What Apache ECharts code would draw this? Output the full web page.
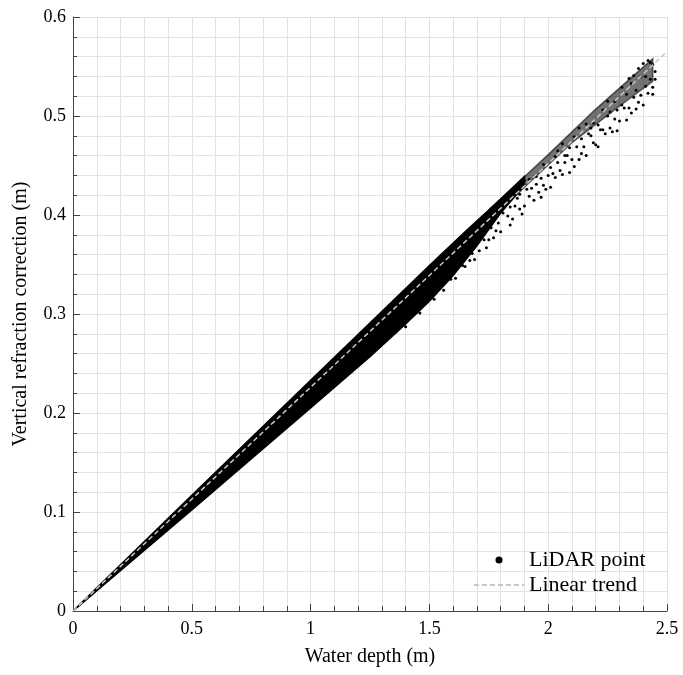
<!DOCTYPE html>
<html><head><meta charset="utf-8">
<script src="https://cdn.jsdelivr.net/npm/echarts@6/dist/echarts.min.js"></script>
<style>html,body{margin:0;padding:0;background:#fff}#c{width:683px;height:675px}</style>
</head><body><div id="c"></div>
<script>
// Tick labels
const xTickLabels = ['0', '0.5', '1', '1.5', '2', '2.5'];
const yTickLabels = ['0', '0.1', '0.2', '0.3', '0.4', '0.5', '0.6'];
// Dense part of the LiDAR point cloud (envelope): upper edge then lower edge back
const denseUpper = [[0,0],[0.5,0.117],[1.0,0.233],[1.5,0.349],[1.65,0.383],[1.8,0.416],[1.9,0.439]];
const denseLower = [[1.9,0.430],[1.8,0.402],[1.7,0.369],[1.6,0.339],[1.5,0.313],[1.4,0.290],[1.25,0.257],[1.0,0.205],[0.5,0.102],[0,0]];
// Medium-density upper strip of the cloud
const midUpper = [[1.75,0.405],[2.0,0.461],[2.2,0.507],[2.44,0.558]];
const midLower = [[2.44,0.535],[2.3,0.510],[2.1,0.473],[1.9,0.428],[1.75,0.392]];
// Sparse individual LiDAR points
const lidarPoints = [
[1.55,0.338],[1.57,0.336],[1.60,0.352],[1.62,0.350],[1.64,0.349],[1.66,0.364],[1.68,0.361],[1.70,0.376],
[1.71,0.364],[1.73,0.375],[1.75,0.375],[1.76,0.387],[1.78,0.384],[1.80,0.383],[1.81,0.402],[1.83,0.399],
[1.85,0.396],[1.86,0.409],[1.88,0.406],[1.89,0.401],[1.91,0.426],[1.92,0.419],[1.94,0.415],[1.95,0.431],
[1.97,0.418],[1.98,0.430],[2.00,0.440],[2.01,0.428],[2.03,0.438],[2.04,0.453],[2.06,0.441],[2.07,0.453],
[2.09,0.443],[2.10,0.456],[2.12,0.469],[2.13,0.456],[2.15,0.469],[2.16,0.460],[2.18,0.480],[2.19,0.473],
[2.21,0.469],[2.22,0.486],[2.24,0.482],[2.25,0.500],[2.27,0.484],[2.28,0.497],[2.30,0.495],[2.31,0.511],
[2.33,0.496],[2.34,0.508],[2.36,0.519],[2.37,0.507],[2.39,0.521],[2.40,0.511],[2.42,0.523],[2.43,0.537],
[2.44,0.522],[2.45,0.537],
[1.58,0.343],[1.63,0.360],[1.67,0.354],[1.72,0.377],[1.77,0.377],[1.79,0.392],[1.84,0.390],[1.87,0.417],
[1.90,0.409],[1.93,0.427],[1.96,0.423],[1.99,0.426],[2.02,0.442],[2.05,0.445],[2.08,0.460],[2.11,0.449],
[2.14,0.462],[2.17,0.482],[2.20,0.471],[2.23,0.486],[2.26,0.488],[2.29,0.485],[2.32,0.508],[2.35,0.503],
[2.38,0.514],[2.41,0.530],[2.44,0.529],
[2.40,0.553],[2.42,0.556],[2.44,0.552],[2.45,0.545],[2.38,0.548],[2.36,0.541],
[1.82,0.411],[1.85,0.422],[1.88,0.421],[1.92,0.436],[1.95,0.439],[1.98,0.451],[2.01,0.448],[2.03,0.459],
[2.06,0.472],[2.09,0.468],[2.11,0.479],[2.14,0.477],[2.16,0.492],[2.19,0.493],[2.21,0.491],[2.23,0.506],
[2.26,0.504],[2.28,0.515],[2.31,0.529],[2.33,0.522],[2.35,0.533],[2.37,0.526],[2.39,0.540],[2.41,0.540],
[2.43,0.554],[2.34,0.538],[2.29,0.506],[2.25,0.515],[2.18,0.488],[2.13,0.488],[2.07,0.460],[2.04,0.465],
[1.97,0.437],[1.90,0.435],[1.84,0.408],
[1.36,0.282],[1.40,0.287],[1.43,0.299],[1.46,0.301],[1.49,0.313],[1.52,0.315],[1.54,0.325],[1.56,0.324],
[1.59,0.335],[1.61,0.336],[1.65,0.348],[1.69,0.355],[1.74,0.367]
];
// Linear trend end points
const trendLine = [[0,0],[2.5,0.565]];

const FONT = 'Liberation Serif';
const gridLine = {lineStyle:{color:'#e2e2e2', width:1, type:'solid'}};

function polySeries(name, upper, lower, fill, opacity){
  const pts = upper.concat(lower);
  return {
    name: name, type:'custom', coordinateSystem:'cartesian2d', z:3, silent:true,
    data:[[0,0]],
    renderItem: function(params, api){
      return {type:'polygon', shape:{points: pts.map(p => api.coord(p))},
        style:{fill:fill, opacity:opacity, stroke:fill, lineWidth:1.5}};
    },
    clip:true
  };
}

const chart = echarts.init(document.getElementById('c'), null, {renderer:'canvas'});
chart.setOption({
  animation:false,
  backgroundColor:'#fff',
  grid:{left:73, right:16, top:17, bottom:64},
  legend:{
    left:473, top:549, orient:'vertical', padding:0, itemGap:3,
    itemWidth:50, itemHeight:7,
    textStyle:{fontFamily:FONT, fontSize:22, color:'#000', lineHeight:22},
    data:[{name:'LiDAR point', icon:'circle', itemStyle:{color:'#000', opacity:1}},
          {name:'Linear trend', itemStyle:{opacity:0}}]
  },
  xAxis:{
    type:'value', min:0, max:2.5, interval:0.5,
    name:'Water depth (m)', nameLocation:'middle', nameGap:36,
    nameTextStyle:{fontFamily:FONT, fontSize:20, color:'#000'},
    axisLine:{lineStyle:{color:'#444', width:1}},
    axisTick:{inside:true, length:7, lineStyle:{color:'#444'}},
    minorTick:{show:true, splitNumber:5, length:5, lineStyle:{color:'#444'}},
    splitLine:Object.assign({show:true}, gridLine),
    minorSplitLine:Object.assign({show:true}, gridLine),
    axisLabel:{fontFamily:FONT, fontSize:18, color:'#000', margin:9,
      formatter: v => xTickLabels[Math.round(v/0.5)]}
  },
  yAxis:{
    type:'value', min:0, max:0.6, interval:0.1,
    name:'Vertical refraction correction (m)', nameLocation:'middle', nameGap:42,
    nameTextStyle:{fontFamily:FONT, fontSize:20, color:'#000'},
    axisLine:{show:true, lineStyle:{color:'#444', width:1}},
    axisTick:{show:true, inside:true, length:7, lineStyle:{color:'#444'}},
    minorTick:{show:true, splitNumber:5, length:4, lineStyle:{color:'#444'}},
    splitLine:Object.assign({show:true}, gridLine),
    minorSplitLine:Object.assign({show:true}, gridLine),
    axisLabel:{fontFamily:FONT, fontSize:18, color:'#000', margin:7,
      formatter: v => yTickLabels[Math.round(v/0.1)]}
  },
  series:[
    {name:'LiDAR point', type:'scatter', data:lidarPoints, symbol:'circle', symbolSize:3,
     itemStyle:{color:'#000', opacity:1}, z:4, silent:true},
    polySeries('dense', denseUpper, denseLower, '#000', 1),
    polySeries('mid', midUpper, midLower, '#000', 0.55),
    {name:'Linear trend', type:'line', data:trendLine, symbol:'none', z:6, silent:true,
     lineStyle:{color:'#c8c8c8', width:1.5, type:[5,3]}, itemStyle:{color:'#c8c8c8'}}
  ]
});
</script></body></html>
